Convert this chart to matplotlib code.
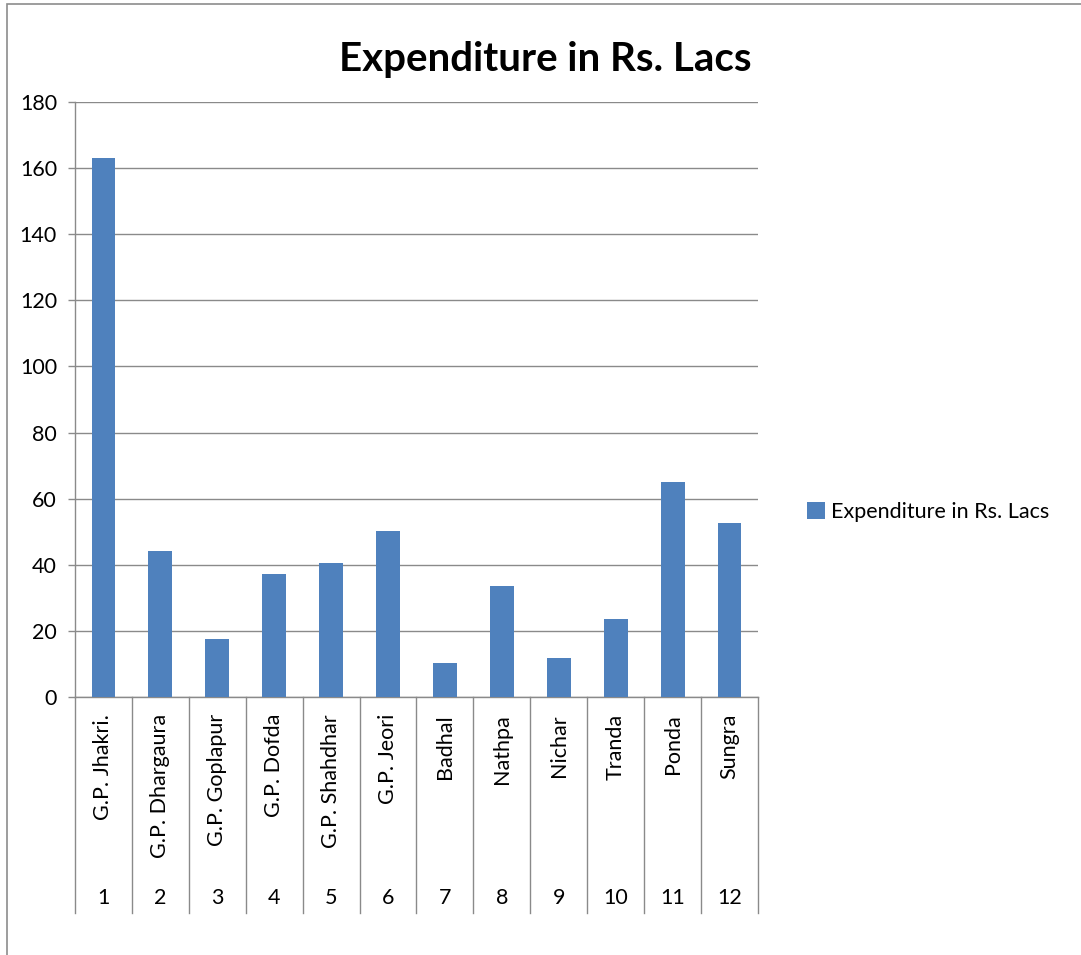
import matplotlib
matplotlib.use("Agg")
import matplotlib.pyplot as plt
import matplotlib.transforms as transforms
from matplotlib.patches import Rectangle

# data
names = ["G.P. Jhakri.", "G.P. Dhargaura", "G.P. Goplapur", "G.P. Dofda",
         "G.P. Shahdhar", "G.P. Jeori", "Badhal", "Nathpa", "Nichar",
         "Tranda", "Ponda", "Sungra"]
numbers = ["1", "2", "3", "4", "5", "6", "7", "8", "9", "10", "11", "12"]
expenditure = [163.2, 44.2, 17.6, 37.2, 40.6, 50.3, 10.3, 33.7, 11.9, 23.6, 65.1, 52.7]
y_ticks = [0, 20, 40, 60, 80, 100, 120, 140, 160, 180]

plt.rcParams['font.family'] = ['Lato', 'DejaVu Sans']
FS = 15.5

W, H = 1081, 955
fig = plt.figure(figsize=(W / 100, H / 100), dpi=100)

# outer chart-area border (only left and top visible)
fig.patches.append(Rectangle((7 / W, -0.1), 1.2, 1 - 4 / H + 0.1,
                             transform=fig.transFigure, fill=False,
                             edgecolor="#8c8c8c", linewidth=1.2))

left, right, top, bottom = 75, 758, 102, 697
ax = fig.add_axes([left / W, 1 - bottom / H, (right - left) / W, (bottom - top) / H])

x = list(range(len(names)))
bars = ax.bar(x, expenditure, width=0.42, color="#4F81BD", zorder=3,
              label="Expenditure in Rs. Lacs")

ax.set_xlim(-0.5, len(names) - 0.5)
ax.set_ylim(0, 180)
ax.set_yticks(y_ticks)
ax.yaxis.grid(True, color="#8a8a8a", linewidth=1, zorder=0)
ax.tick_params(axis='y', length=5, width=1, color="#8a8a8a", pad=8, labelsize=FS)
ax.set_xticks([])

for s in ["top", "right"]:
    ax.spines[s].set_visible(False)
for s in ["left", "bottom"]:
    ax.spines[s].set_color("#8a8a8a")
    ax.spines[s].set_linewidth(1)

# multi-level category axis
trans = transforms.blended_transform_factory(ax.transData, ax.transAxes)
depth = -(913 - bottom) / (bottom - top)
for i in range(len(names) + 1):
    ax.plot([i - 0.5, i - 0.5], [0, depth], transform=trans, color="#8a8a8a",
            linewidth=1, clip_on=False)

name_y = -(714 - bottom) / (bottom - top)
num_y = -(898 - bottom) / (bottom - top)
for i in x:
    ax.text(i, name_y, names[i], transform=trans, rotation=90, ha='center',
            va='top', fontsize=FS)
    ax.text(i, num_y, numbers[i], transform=trans, ha='center', va='center',
            fontsize=FS)

fig.text(545 / W, 1 - 60 / H, "Expenditure in Rs. Lacs", ha='center',
         va='center', fontsize=29, fontweight='bold')

fig.legend(handles=[bars], labels=["Expenditure in Rs. Lacs"], loc='center left',
           bbox_to_anchor=(788 / W, 1 - 512 / H), frameon=False, fontsize=FS,
           handlelength=0.8, handleheight=0.8, handletextpad=0.3)

fig.savefig("out.png", dpi=100, facecolor="white")
